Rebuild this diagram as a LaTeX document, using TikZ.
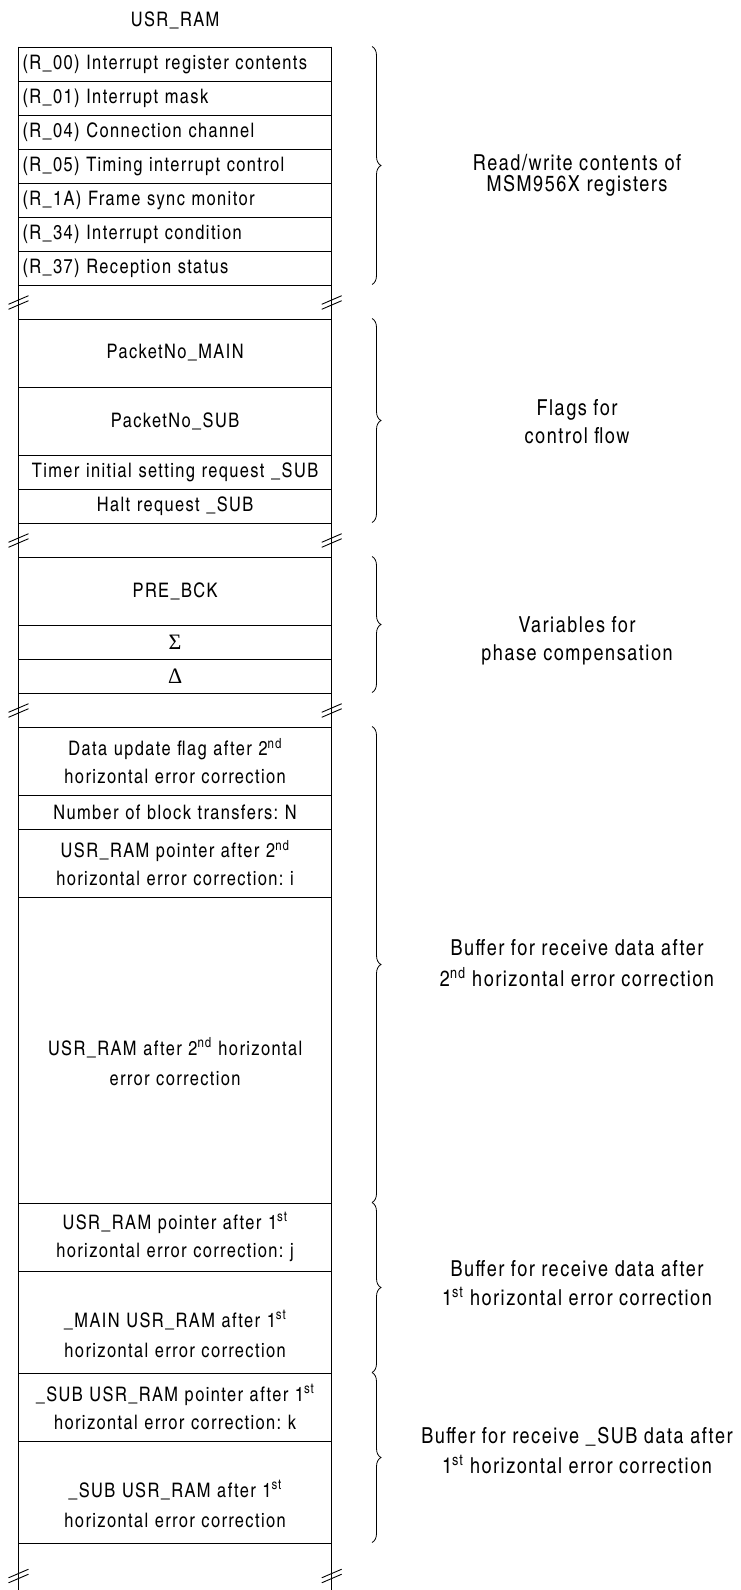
\documentclass[tikz,border=0pt]{standalone}
\usepackage{fontspec}
\setmainfont{texgyreheroscn}[Extension=.otf,UprightFont=*-regular,BoldFont=*-bold,ItalicFont=*-italic,BoldItalicFont=*-bolditalic,LetterSpace=7]
\newfontfamily\greekfont{Liberation Serif}
\usetikzlibrary{decorations.pathreplacing}
\frenchspacing
\newcommand\lowerpad{\rule{0pt}{41pt}}
\begin{document}
\begin{tikzpicture}[x=1pt,y=-1pt,
  cell/.style={draw, line width=1pt, text width=305.2pt, inner xsep=4pt, inner ysep=0pt,
    anchor=north, align=center, font=\fontsize{20}{28}\selectfont},
  lcell/.style={cell, align=left},
  brc/.style={decorate, decoration={brace, amplitude=9pt}, line width=0.8pt},
  lab/.style={align=center, anchor=base, inner sep=0pt},
  brkmark/.pic={\draw[line width=0.9pt] (-10,2.8) -- (10,-5.8) (-10,7.8) -- (10,-0.8);}
]
\useasboundingbox (0,0) rectangle (740,1590);
% title
\node[font=\fontsize{20}{24}\selectfont, anchor=base, inner sep=0pt] (title) at (175.1,26) {USR\_RAM};
% outer vertical lines
\coordinate (tl) at (18.5,46.5);
\coordinate (bl) at (18.5,1590);
\coordinate (tr) at (331.7,46.5);
\coordinate (br) at (331.7,1590);
\draw[line width=1pt] (tl) -- (bl) (tr) -- (br);
% register rows
\node[lcell, minimum height=34pt] (r00) at (175.1,46.5) {(R\_00) Interrupt register contents};
\node[lcell, minimum height=34pt] (r01) at (175.1,80.5) {(R\_01) Interrupt mask};
\node[lcell, minimum height=34pt] (r04) at (175.1,114.5) {(R\_04) Connection channel};
\node[lcell, minimum height=34pt] (r05) at (175.1,148.5) {(R\_05) Timing interrupt control};
\node[lcell, minimum height=34pt] (r1a) at (175.1,182.5) {(R\_1A) Frame sync monitor};
\node[lcell, minimum height=34pt] (r34) at (175.1,216.5) {(R\_34) Interrupt condition};
\node[lcell, minimum height=34pt] (r37) at (175.1,250.5) {(R\_37) Reception status};
% flags
\node[cell, minimum height=68pt] (pmain) at (175.1,318.5) {PacketNo\_MAIN};
\node[cell, minimum height=68pt] (psub) at (175.1,386.5) {PacketNo\_SUB};
\node[cell, minimum height=34pt] (timer) at (175.1,454.5) {Timer initial setting request \_SUB};
\node[cell, minimum height=34pt] (halt) at (175.1,488.5) {Halt request \_SUB};
% phase compensation
\node[cell, minimum height=68pt] (prebck) at (175.1,556.5) {PRE\_BCK};
\node[cell, minimum height=34pt] (sigma) at (175.1,624.5) {\greekfont\fontsize{22}{24}\selectfont Σ};
\node[cell, minimum height=34pt] (delta) at (175.1,658.5) {\greekfont\fontsize{22}{24}\selectfont Δ};
% buffers
\node[cell, minimum height=68pt] (dflag) at (175.1,726.5) {Data update flag after 2\textsuperscript{nd}\\horizontal error correction};
\node[cell, minimum height=34pt] (nblk) at (175.1,794.5) {Number of block transfers: N};
\node[cell, minimum height=68pt] (ptri) at (175.1,828.5) {USR\_RAM pointer after 2\textsuperscript{nd}\\horizontal error correction: i};
\node[cell, minimum height=306pt, font=\fontsize{20}{30}\selectfont] (ram2) at (175.1,896.5) {\lowerpad USR\_RAM after 2\textsuperscript{nd} horizontal\\error correction};
\node[cell, minimum height=68pt] (ptrj) at (175.1,1202.5) {USR\_RAM pointer after 1\textsuperscript{st}\\horizontal error correction: j};
\node[cell, minimum height=102pt, font=\fontsize{20}{30}\selectfont] (main1) at (175.1,1270.5) {\lowerpad\_MAIN USR\_RAM after 1\textsuperscript{st}\\horizontal error correction};
\node[cell, minimum height=68pt] (ptrk) at (175.1,1372.5) {\_SUB USR\_RAM pointer after 1\textsuperscript{st}\\horizontal error correction: k};
\node[cell, minimum height=102pt, font=\fontsize{20}{30}\selectfont] (sub1) at (175.1,1440.5) {\lowerpad\_SUB USR\_RAM after 1\textsuperscript{st}\\horizontal error correction};
% break marks
\foreach \yc in {301.5,539.5,709.5,1575} {
  \pic at (18.5,\yc) {brkmark};
  \pic at (331.7,\yc) {brkmark};
}
% braces
\draw[brc] (372,46.5) -- (372,284.5);
\draw[brc] (372,318.5) -- (372,522.5);
\draw[brc] (372,556.5) -- (372,692.5);
\draw[brc] (372,726.5) -- (372,1202.5);
\draw[brc] (372,1202.5) -- (372,1372.5);
\draw[brc] (372,1372.5) -- (372,1542.5);
% labels (anchor at the baseline of the last line)
\node[lab, font=\fontsize{22}{21.7}\selectfont] (l1) at (577,191.7) {Read/write contents of\\MSM956X registers};
\node[lab, font=\fontsize{22}{28}\selectfont] (l2) at (577,443.3) {Flags for\\control flow};
\node[lab, font=\fontsize{22}{28}\selectfont] (l3) at (577,660) {Variables for\\phase compensation};
\node[lab, font=\fontsize{22}{31}\selectfont] (l4) at (577,986) {Buffer for receive data after\\2\textsuperscript{nd} horizontal error correction};
\node[lab, font=\fontsize{22}{29.5}\selectfont] (l5) at (577,1305.5) {Buffer for receive data after\\1\textsuperscript{st} horizontal error correction};
\node[lab, font=\fontsize{22}{29.5}\selectfont] (l6) at (577,1473) {Buffer for receive \_SUB data after\\1\textsuperscript{st} horizontal error correction};
\end{tikzpicture}
\end{document}
